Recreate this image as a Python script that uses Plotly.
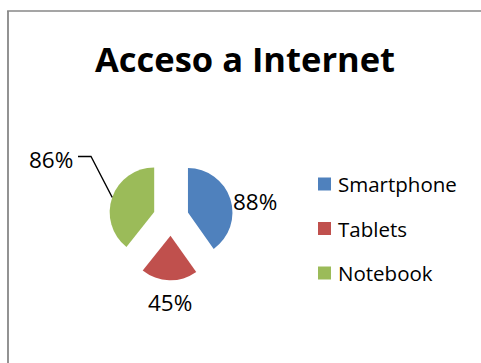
import math
import plotly.graph_objects as go

# Survey results: share of people with access through each device (%)
devices = ["Smartphone", "Tablets", "Notebook"]
access_pct = [88, 45, 86]
slice_colors = ["#4F81BD", "#C0504D", "#9BBB59"]
title_text = "Acceso a Internet"

W, H = 481, 363
FONT = "'Open Sans', Lato, sans-serif"

# pie placement in pixels (centre of the un-exploded pie, outer radius, pull fraction)
CX, CY, RAD, PULL = 171.0, 218.0, 44.5, 0.4
half_box = RAD * (1 + PULL)


def px(x):
    return x / W


def py(y):
    return 1 - y / H


fig = go.Figure()
fig.add_trace(go.Pie(
    labels=devices,
    values=access_pct,
    marker=dict(colors=slice_colors, line=dict(width=0)),
    sort=False,
    direction="clockwise",
    rotation=0,
    pull=[PULL] * len(access_pct),
    textinfo="none",
    hoverinfo="label+value",
    showlegend=False,
    domain=dict(x=[px(CX - half_box), px(CX + half_box)],
                y=[py(CY + half_box), py(CY - half_box)]),
))

annotations = []
shapes = []

# value labels around the pie
label_pos = [(255.5, 201), (170, 302), (50.5, 159)]
for v, (lx, ly) in zip(access_pct, label_pos):
    annotations.append(dict(
        x=px(lx), y=py(ly), xref="paper", yref="paper",
        text=f"{v}%", showarrow=False,
        font=dict(family=FONT, size=22.5, color="#000000"),
        xanchor="center", yanchor="middle",
    ))

# leader line from the Notebook label to the middle of its arc
total = sum(access_pct)
start = sum(access_pct[:2]) / total * 360
mid = math.radians(start + access_pct[2] / total * 180)
reach = RAD * (1 + PULL)
ax = CX + reach * math.sin(mid)
ay = CY - reach * math.cos(mid)
shapes.append(dict(
    type="path", xref="paper", yref="paper",
    path=f"M {px(78)} {py(156.5)} L {px(91)} {py(156.5)} L {px(ax)} {py(ay)}",
    line=dict(color="#000000", width=1.3),
))

# legend drawn as swatches with labels
legend_y = [184, 228.5, 273]
for name, col, ly in zip(devices, slice_colors, legend_y):
    shapes.append(dict(
        type="rect", xref="paper", yref="paper",
        x0=px(318), x1=px(331), y0=py(ly + 6.5), y1=py(ly - 6.5),
        fillcolor=col, line=dict(width=0),
    ))
    annotations.append(dict(
        x=px(335.5), y=py(ly), xref="paper", yref="paper",
        text=name, showarrow=False,
        font=dict(family=FONT, size=20.5, color="#000000"),
        xanchor="left", yanchor="middle",
    ))

# title
annotations.append(dict(
    x=px(245), y=py(58), xref="paper", yref="paper",
    text=f"<b>{title_text}</b>", showarrow=False,
    font=dict(family=FONT, size=34.5, color="#000000"),
    xanchor="center", yanchor="middle",
))

# chart area frame (left and top edges)
shapes.append(dict(type="line", xref="paper", yref="paper",
                   x0=px(8), x1=px(8), y0=py(11), y1=py(H + 5),
                   line=dict(color="#878787", width=1.8)))
shapes.append(dict(type="line", xref="paper", yref="paper",
                   x0=px(7.1), x1=px(W + 5), y0=py(11), y1=py(11),
                   line=dict(color="#878787", width=1.3)))

fig.update_layout(
    width=W, height=H,
    margin=dict(l=0, r=0, t=0, b=0),
    paper_bgcolor="#FFFFFF",
    plot_bgcolor="#FFFFFF",
    showlegend=False,
    annotations=annotations,
    shapes=shapes,
)

fig.write_html("out.html", config={"displayModeBar": False})
